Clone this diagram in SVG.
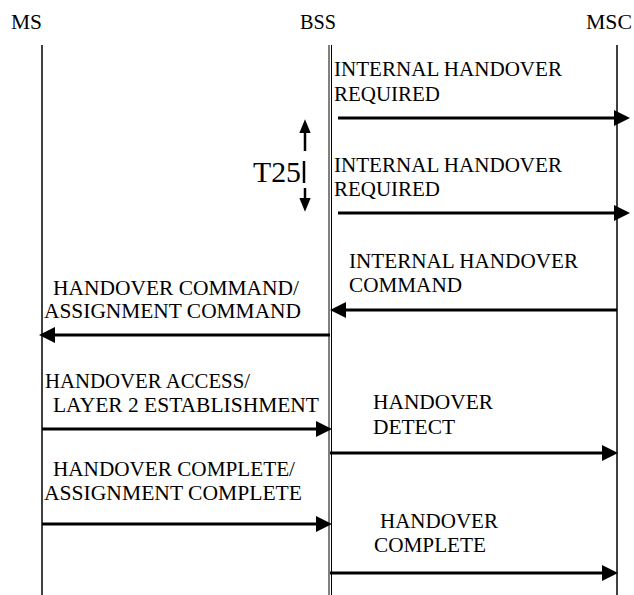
<svg xmlns="http://www.w3.org/2000/svg" width="634" height="595" viewBox="0 0 634 595">
<style>
text{font-family:"Liberation Serif","Times New Roman",serif;fill:#000;}
.h{font-size:21px;}
.l{font-size:22px;}
.t{font-size:30px;}
.life{stroke:#000;stroke-width:1.5;fill:none;}
.msg{stroke:#000;stroke-width:3;fill:none;marker-end:url(#ah);}
.tm{stroke:#000;stroke-width:2.5;fill:none;marker-end:url(#ah2);}
</style>
<defs>
<marker id="ah" markerUnits="userSpaceOnUse" markerWidth="16" markerHeight="16" viewBox="0 0 16 16" refX="4" refY="8" orient="auto">
<path d="M0,0 L16,8 L0,16 z" fill="#000"/>
</marker>
<marker id="ah2" markerUnits="userSpaceOnUse" markerWidth="14" markerHeight="17" viewBox="0 0 17 14" refX="4" refY="7" orient="auto">
<path d="M0,0 L17,7 L0,14 z" fill="#000"/>
</marker>
</defs>
<rect width="634" height="595" fill="#fff"/>
<g id="MS">
<text class="h" x="11" y="29" textLength="31" lengthAdjust="spacingAndGlyphs">MS</text>
<line class="life" x1="42" y1="45" x2="42" y2="595"/>
</g>
<g id="BSS">
<text class="h" x="300" y="29" textLength="36" lengthAdjust="spacingAndGlyphs">BSS</text>
<line class="life" x1="329" y1="45" x2="329" y2="595" style="stroke-width:1"/>
<line class="life" x1="331.5" y1="45" x2="331.5" y2="595" style="stroke-width:1"/>
</g>
<g id="MSC">
<text class="h" x="586" y="29" textLength="46" lengthAdjust="spacingAndGlyphs">MSC</text>
<line class="life" x1="617" y1="45" x2="617" y2="595"/>
</g>
<g id="T25">
<text class="t" x="253" y="182" textLength="48" lengthAdjust="spacingAndGlyphs">T25</text>
<line x1="304" y1="161" x2="304" y2="183" stroke="#000" stroke-width="2.5"/>
</g>
<g id="labels">
<text class="l" x="334" y="76" textLength="228" lengthAdjust="spacingAndGlyphs">INTERNAL HANDOVER</text>
<text class="l" x="334" y="101" textLength="106" lengthAdjust="spacingAndGlyphs">REQUIRED</text>
<text class="l" x="334" y="172" textLength="228" lengthAdjust="spacingAndGlyphs">INTERNAL HANDOVER</text>
<text class="l" x="334" y="196" textLength="106" lengthAdjust="spacingAndGlyphs">REQUIRED</text>
<text class="l" x="349" y="268" textLength="229" lengthAdjust="spacingAndGlyphs">INTERNAL HANDOVER</text>
<text class="l" x="349" y="292" textLength="113" lengthAdjust="spacingAndGlyphs">COMMAND</text>
<text class="l" x="53" y="295" textLength="246" lengthAdjust="spacingAndGlyphs">HANDOVER COMMAND/</text>
<text class="l" x="44" y="318" textLength="257" lengthAdjust="spacingAndGlyphs">ASSIGNMENT COMMAND</text>
<text class="l" x="45" y="388" textLength="205" lengthAdjust="spacingAndGlyphs">HANDOVER ACCESS/</text>
<text class="l" x="53" y="412" textLength="266" lengthAdjust="spacingAndGlyphs">LAYER 2 ESTABLISHMENT</text>
<text class="l" x="373" y="409" textLength="120" lengthAdjust="spacingAndGlyphs">HANDOVER</text>
<text class="l" x="373" y="434" textLength="82" lengthAdjust="spacingAndGlyphs">DETECT</text>
<text class="l" x="53" y="476" textLength="242" lengthAdjust="spacingAndGlyphs">HANDOVER COMPLETE/</text>
<text class="l" x="44" y="500" textLength="258" lengthAdjust="spacingAndGlyphs">ASSIGNMENT COMPLETE</text>
<text class="l" x="380" y="528" textLength="118" lengthAdjust="spacingAndGlyphs">HANDOVER</text>
<text class="l" x="374" y="552" textLength="112" lengthAdjust="spacingAndGlyphs">COMPLETE</text>
</g>
<g id="connectors">
<line class="msg" x1="338" y1="118" x2="618" y2="118"/>
<line class="msg" x1="338" y1="213" x2="618" y2="213"/>
<line class="msg" x1="617" y1="310" x2="342" y2="310"/>
<line class="msg" x1="330" y1="335" x2="51" y2="335"/>
<line class="msg" x1="42" y1="429" x2="320" y2="429"/>
<line class="msg" x1="330" y1="453" x2="606" y2="453"/>
<line class="msg" x1="42" y1="524" x2="320" y2="524"/>
<line class="msg" x1="330" y1="573" x2="606" y2="573"/>
<line class="tm" x1="305" y1="151" x2="305" y2="130"/>
<line class="tm" x1="305" y1="188" x2="305" y2="201"/>
</g>
</svg>
